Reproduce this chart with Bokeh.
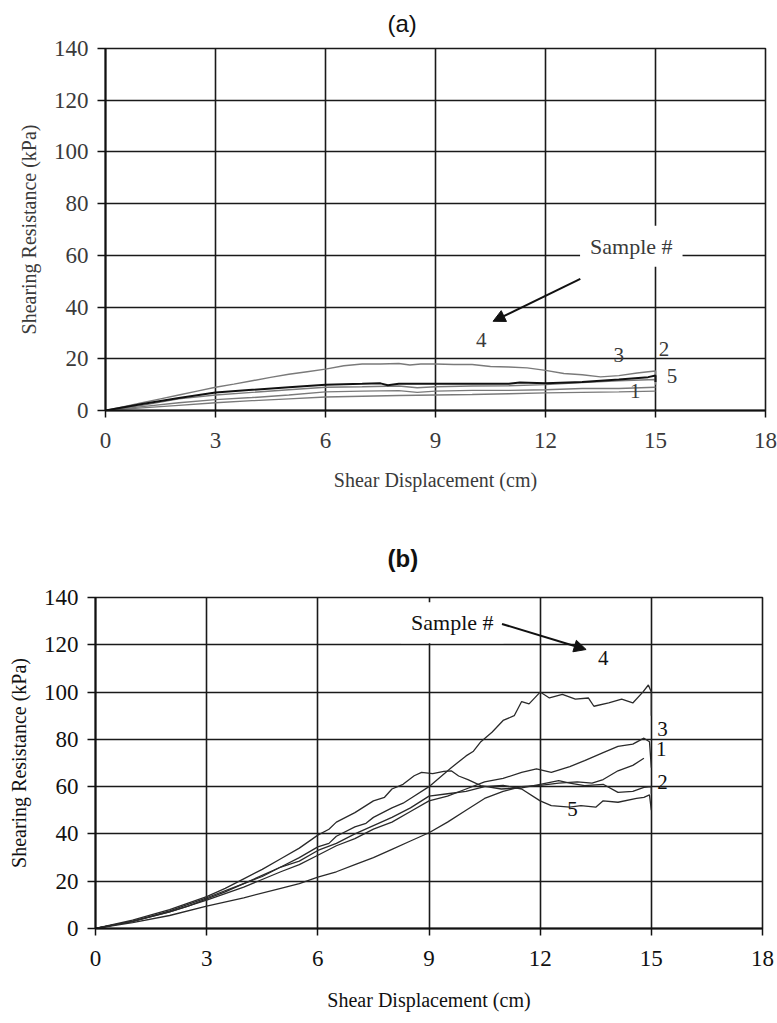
from bokeh.plotting import figure
from bokeh.models import Range1d, FixedTicker, Label, Arrow, NormalHead
from bokeh.embed import file_html
from bokeh.resources import INLINE

x_ticks = [0, 3, 6, 9, 12, 15, 18]
y_ticks = [0, 20, 40, 60, 80, 100, 120, 140]

# ---------- (a) data ----------
a_s4_x = [0, 0.5, 1, 1.5, 2, 2.5, 3, 3.5, 4, 4.5, 5, 5.5, 6, 6.5, 7, 7.5, 8, 8.3, 8.6, 9, 9.5, 10, 10.5, 11, 11.5, 12, 12.5, 13, 13.5, 14, 14.5, 14.8, 15, 15]
a_s4_y = [0, 1.5, 3, 4.5, 6, 7.5, 9, 10.2, 11.5, 12.8, 14, 15, 16, 17.3, 18, 18, 18.2, 17.6, 18, 18, 17.8, 17.8, 17, 16.8, 16.5, 15.5, 14.3, 13.8, 13, 13.5, 14.5, 15, 15.3, 13]
a_s3_x = [0, 1, 2, 3, 4, 5, 6, 6.5, 7, 7.5, 7.7, 8, 9, 10, 11, 11.3, 12, 13, 14, 14.8, 15, 15]
a_s3_y = [0, 2.5, 4.8, 7, 8, 9, 10, 10.2, 10.3, 10.5, 9.8, 10.3, 10.3, 10.3, 10.3, 10.8, 10.5, 11, 12, 12.9, 13.5, 11]
a_s2_x = [0, 1, 2, 3, 4, 5, 6, 7, 8, 8.5, 9, 10, 11, 12, 13, 14, 15, 15]
a_s2_y = [0, 2, 4.5, 6, 7, 8, 9, 9.2, 9.5, 8.8, 9.2, 9.5, 9.6, 10, 10.8, 11.5, 12, 10]
a_s5_x = [0, 1, 2, 3, 4, 5, 6, 7, 8, 8.5, 9, 10, 11, 12, 13, 14, 15]
a_s5_y = [0, 1.5, 3, 4.2, 5, 6, 7.2, 7.5, 7.7, 7, 7.5, 7.8, 7.8, 8, 8.5, 8.5, 9]
a_s1_x = [0, 1, 2, 3, 4, 5, 6, 7, 8, 9, 10, 11, 12, 13, 14, 15]
a_s1_y = [0, 1, 2, 3, 3.8, 4.5, 5.2, 5.5, 5.8, 6, 6.2, 6.5, 6.8, 7, 7.2, 7.5]

# ---------- (b) data ----------
b_s4_x = [0, 0.5, 1, 1.5, 2, 2.5, 3, 3.5, 4, 4.5, 5, 5.5, 6, 6.3, 6.5, 7, 7.3, 7.5, 8, 8.3, 8.5, 9, 9.3, 9.6, 10, 10.2, 10.4, 10.7, 11, 11.3, 11.5, 11.7, 12, 12.25, 12.6, 12.95, 13.3, 13.45, 13.85, 14.2, 14.5, 14.77, 14.92, 15, 15]
b_s4_y = [0, 1.5, 3, 5, 7, 9.5, 12.5, 15.5, 19, 22, 26, 30, 34.5, 36, 39, 43, 44.5, 47, 51, 53, 55, 60, 64, 68, 73, 75, 79, 83, 88, 90, 96, 95, 100, 97.5, 99, 97, 97.5, 94, 95.4, 97, 95.4, 100, 103, 100, 90]
b_s2_x = [0, 1, 2, 3, 3.5, 4, 4.5, 5, 5.5, 6, 6.3, 6.5, 7, 7.5, 7.8, 8, 8.3, 8.6, 8.8, 9.1, 9.4, 9.6, 9.8, 10.05, 10.4, 10.95, 11.5, 12, 12.5, 12.8, 13.2, 13.7, 14.1, 14.5, 14.8, 15, 15]
b_s2_y = [0, 3.5, 8, 13.5, 17, 21, 25, 29.5, 34, 39.5, 42, 45, 49, 54, 55.5, 59, 61, 64.6, 66, 65.5, 66.5, 66.7, 64.5, 63, 60.4, 59, 59.5, 61, 62.5, 61.5, 60.4, 61, 57.6, 58, 59.7, 60, 57]
b_s5_x = [0, 1, 2, 3, 4, 5, 5.5, 6, 6.5, 7, 7.5, 8, 8.5, 9, 9.5, 10, 10.5, 11, 11.5, 12, 12.3, 12.8, 13.1, 13.5, 13.7, 14.1, 14.6, 14.8, 14.95, 15]
b_s5_y = [0, 3, 7.5, 13, 19, 26, 28.5, 33, 36, 40, 43.5, 47, 51, 56, 57, 58, 60, 60.5, 59, 54, 52, 51.3, 52, 51.3, 54, 53.4, 55, 55.5, 56.5, 50]
b_s3_x = [0, 1, 2, 3, 4, 5, 5.5, 6, 6.5, 7, 7.5, 8, 8.5, 9, 9.5, 10, 10.5, 11, 11.5, 11.9, 12.3, 12.8, 13.2, 13.7, 14.1, 14.5, 14.8, 14.95, 15]
b_s3_y = [0, 3, 7, 12, 17.5, 24, 27, 31, 35, 38, 42, 45, 49.5, 54, 56, 59, 62, 63.5, 66, 67.5, 66, 68.5, 71, 74.4, 77, 78, 80.5, 79, 68]
b_s1_x = [0, 1, 2, 3, 4, 5, 5.5, 6, 6.5, 7, 7.5, 8, 8.5, 9, 9.5, 10, 10.5, 11, 11.5, 12, 12.5, 13, 13.4, 13.7, 14.1, 14.5, 14.8]
b_s1_y = [0, 2.5, 5.5, 9.5, 13, 17, 19, 21.7, 24, 27, 30, 33.5, 37, 40.5, 45, 50, 55, 58, 60, 60.5, 61.5, 62, 61.5, 63, 66.7, 69, 72]

a_labels = ["4", "3", "2", "5", "1"]
a_label_x = [10.25, 14.0, 15.23, 15.45, 14.45]
a_label_y = [27.1, 21.3, 23.8, 13.5, 7.7]
b_labels = ["4", "3", "1", "2", "5"]
b_label_x = [13.7, 15.3, 15.27, 15.3, 12.87]
b_label_y = [114.4, 84.5, 76.0, 61.8, 50.7]

SERIF = "Liberation Serif"
SANS = "Liberation Sans"


def make_fig(w, h, bl, br, bt, bb, fw, fh, txt_color, title, title_style, title_offset,
             title_standoff, x_lab_standoff, x_tick_standoff, y_lab_standoff):
    p = figure(width=w, height=h, output_backend="svg", toolbar_location=None,
               x_range=Range1d(0, 18), y_range=Range1d(0, 140),
               min_border_left=bl, min_border_right=br, min_border_top=bt, min_border_bottom=bb,
               frame_width=fw, frame_height=fh, title=title)
    p.title.align = "left"
    p.title.vertical_align = "top"
    p.title.offset = title_offset
    p.title.standoff = title_standoff
    p.title.text_font = SANS
    p.title.text_font_size = "24px"
    p.title.text_font_style = title_style
    p.title.text_color = "#111111"
    p.xaxis.ticker = FixedTicker(ticks=x_ticks)
    p.yaxis.ticker = FixedTicker(ticks=y_ticks)
    p.xgrid.ticker = FixedTicker(ticks=x_ticks)
    p.ygrid.ticker = FixedTicker(ticks=y_ticks)
    for g in (p.xgrid, p.ygrid):
        g.grid_line_color = "#1a1a1a"
        g.grid_line_width = 1.6
        g.grid_line_alpha = 1.0
    p.outline_line_color = "#1a1a1a"
    p.outline_line_width = 1.6
    for ax in (p.xaxis, p.yaxis):
        ax.axis_line_color = "#111111"
        ax.axis_line_width = 2
        ax.major_tick_line_color = "#111111"
        ax.major_tick_line_width = 1.5
        ax.major_tick_in = 0
        ax.minor_tick_line_color = None
        ax.major_label_text_font = SERIF
        ax.major_label_text_font_size = "23px"
        ax.major_label_text_color = txt_color
        ax.axis_label_text_font = SERIF
        ax.axis_label_text_font_size = "20px"
        ax.axis_label_text_font_style = "normal"
        ax.axis_label_text_color = txt_color
    p.xaxis.major_tick_out = 7
    p.yaxis.major_tick_out = 8
    p.xaxis.major_label_standoff = x_tick_standoff
    p.yaxis.major_label_standoff = 9
    p.xaxis.axis_label_standoff = x_lab_standoff
    p.yaxis.axis_label_standoff = y_lab_standoff
    p.xaxis.axis_label = "Shear Displacement (cm)"
    p.yaxis.axis_label = "Shearing Resistance (kPa)"
    p.background_fill_color = "white"
    p.border_fill_color = "white"
    return p


# ---------- (a) ----------
pa = make_fig(777, 520, 105, 12, 48, 110, 660, 362, "#3a3a3a", "(a)", "normal", 282, 19,
              18, 15, 11)
gray = "#7a7a7a"
pa.line(a_s4_x, a_s4_y, line_color=gray, line_width=1.4)
pa.line(a_s2_x, a_s2_y, line_color=gray, line_width=1.4)
pa.line(a_s5_x, a_s5_y, line_color=gray, line_width=1.4)
pa.line(a_s1_x, a_s1_y, line_color=gray, line_width=1.4)
pa.line(a_s3_x, a_s3_y, line_color="#111111", line_width=2.0)
for t, x, y in zip(a_labels, a_label_x, a_label_y):
    pa.add_layout(Label(x=x, y=y, text=t, text_font=SERIF, text_font_size="21px",
                        text_color="#3a3a3a", text_align="center", text_baseline="middle"))
pa.add_layout(Label(x=14.34, y=63.5, text="Sample #", text_font=SERIF, text_font_size="22px",
                    text_color="#3a3a3a", text_align="center", text_baseline="middle",
                    background_fill_color="white", padding=(10, 8)))
pa.add_layout(Arrow(end=NormalHead(size=12, fill_color="#111111", line_color="#111111"),
                    x_start=12.95, y_start=50.9, x_end=10.57, y_end=34.5,
                    line_color="#111111", line_width=2))

# ---------- (b) ----------
pb = make_fig(777, 503, 95, 15, 77, 95, 667, 331, "#111111", "(b)", "bold", 292, 47,
              20, 15, 11)
dk = "#2a2a2a"
for xs, ys in ((b_s4_x, b_s4_y), (b_s2_x, b_s2_y), (b_s5_x, b_s5_y), (b_s3_x, b_s3_y), (b_s1_x, b_s1_y)):
    pb.line(xs, ys, line_color=dk, line_width=1.3)
for t, x, y in zip(b_labels, b_label_x, b_label_y):
    pb.add_layout(Label(x=x, y=y, text=t, text_font=SERIF, text_font_size="21px",
                        text_color="#111111", text_align="center", text_baseline="middle"))
pb.add_layout(Label(x=9.63, y=129.3, text="Sample #", text_font=SERIF, text_font_size="22px",
                    text_color="#111111", text_align="center", text_baseline="middle",
                    background_fill_color="white", padding=(10, 8)))
pb.add_layout(Arrow(end=NormalHead(size=12, fill_color="#111111", line_color="#111111"),
                    x_start=10.97, y_start=128.8, x_end=13.24, y_end=118.0,
                    line_color="#111111", line_width=2))

open("out.html", "w").write(file_html([pa, pb], INLINE))
